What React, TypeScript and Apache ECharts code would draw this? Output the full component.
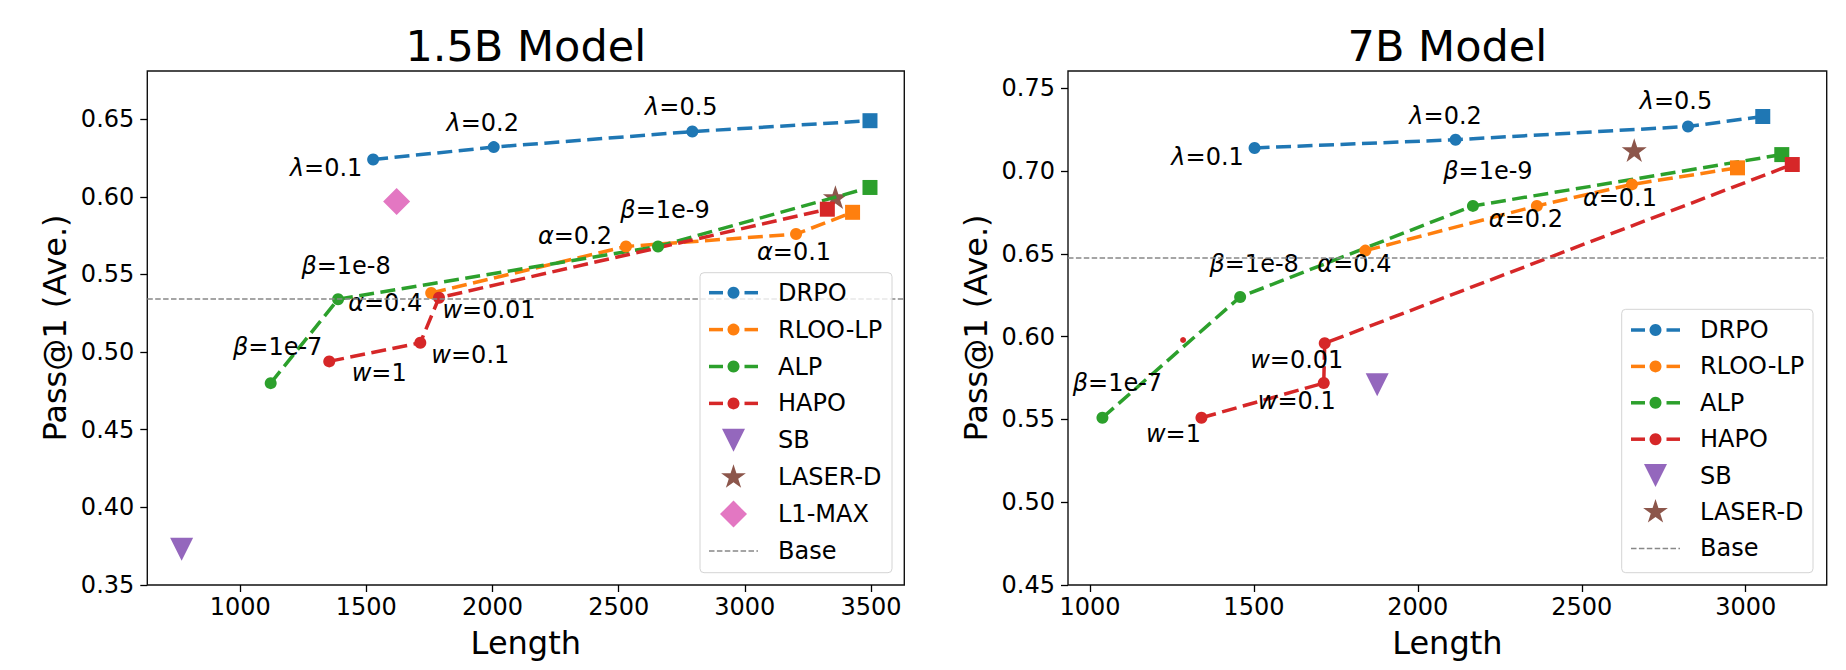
import React, { useEffect, useRef } from 'react';
import * as echarts from 'echarts';

const FONT = 'DejaVu Sans';

const C_DRPO = '#1f77b4';
const C_RLOO = '#ff7f0e';
const C_ALP = '#2ca02c';
const C_HAPO = '#d62728';
const C_SB = '#9467bd';
const C_LASER = '#8c564b';
const C_L1 = '#e377c2';
const C_BASE = '#888888';

const LINE_W = 3.5;
const LINE_DASH = [15, 6.5];

// ---------- 1.5B model ----------
const X_TICKS_15B = [1000, 1500, 2000, 2500, 3000, 3500];
const Y_TICKS_15B = [0.35, 0.4, 0.45, 0.5, 0.55, 0.6, 0.65];
const X_RANGE_15B = [632, 3632];
const Y_RANGE_15B = [0.35, 0.681];

const DRPO_15B_LEN = [1527, 2005, 2792, 3496];
const DRPO_15B_ACC = [0.624, 0.632, 0.642, 0.649];
const DRPO_15B_TAGS = ['λ=0.1', 'λ=0.2', 'λ=0.5', ''];

const RLOO_15B_LEN = [1757, 2529, 3203, 3427];
const RLOO_15B_ACC = [0.538, 0.568, 0.576, 0.59];
const RLOO_15B_TAGS = ['α=0.4', 'α=0.2', 'α=0.1', ''];

const ALP_15B_LEN = [1121, 1388, 2656, 3496];
const ALP_15B_ACC = [0.48, 0.534, 0.568, 0.606];
const ALP_15B_TAGS = ['β=1e-7', 'β=1e-8', 'β=1e-9', ''];

const HAPO_15B_LEN = [1353, 1714, 1788, 3327];
const HAPO_15B_ACC = [0.494, 0.506, 0.535, 0.592];
const HAPO_15B_TAGS = ['w=1', 'w=0.1', 'w=0.01', ''];

const SB_15B = [[768, 0.373]];
const LASER_15B = [[3359, 0.599]];
const L1MAX_15B = [[1620, 0.597]];
const BASE_15B = 0.5345;

// ---------- 7B model ----------
const X_TICKS_7B = [1000, 1500, 2000, 2500, 3000];
const Y_TICKS_7B = [0.45, 0.5, 0.55, 0.6, 0.65, 0.7, 0.75];
const X_RANGE_7B = [933, 3247];
const Y_RANGE_7B = [0.45, 0.7605];

const DRPO_7B_LEN = [1502, 2115, 2824, 3052];
const DRPO_7B_ACC = [0.714, 0.719, 0.727, 0.733];
const DRPO_7B_TAGS = ['λ=0.1', 'λ=0.2', 'λ=0.5', ''];

const RLOO_7B_LEN = [1840, 2363, 2653, 2975];
const RLOO_7B_ACC = [0.652, 0.679, 0.692, 0.702];
const RLOO_7B_TAGS = ['α=0.4', 'α=0.2', 'α=0.1', ''];

const ALP_7B_LEN = [1038, 1458, 2168, 3110];
const ALP_7B_ACC = [0.551, 0.624, 0.679, 0.71];
const ALP_7B_TAGS = ['β=1e-7', 'β=1e-8', 'β=1e-9', ''];

const HAPO_7B_LEN = [1340, 1713, 1716, 3142];
const HAPO_7B_ACC = [0.551, 0.572, 0.596, 0.704];
const HAPO_7B_TAGS = ['w=1', 'w=0.1', 'w=0.01', ''];
const HAPO_7B_STRAY = [[1284, 0.598]];

const SB_7B = [[1876, 0.571]];
const LASER_7B = [[2660, 0.712]];
const BASE_7B = 0.6474;

// label offsets (px) for the annotated points of each curve
const OFF_15B = {
  drpo: [[-47, 8], [-11, -24], [-11, -25]],
  rloo: [[-46, 10], [-51, -10], [-2, 18]],
  alp: [[7, -36], [8, -33], [7, -36]],
  hapo: [[50, 12], [50, 12], [50, 12]],
};
const OFF_7B = {
  drpo: [[-47, 9], [-10, -24], [-12, -25]],
  rloo: [[-11, 13], [-11, 13], [-12, 14]],
  alp: [[15, -35], [14, -33], [15, -35]],
  hapo: [[-28, 16], [-27, 18], [-28, 17]],
};

// plot boxes
const GRID_15B = { left: 147.3, top: 71, width: 757, height: 514 };
const GRID_7B = { left: 1068, top: 71, width: 758.7, height: 514 };

function starPoints(cx: number, cy: number, R: number) {
  const pts: number[][] = [];
  for (let i = 0; i < 10; i++) {
    const r = i % 2 ? R * 0.381966 : R;
    const a = -Math.PI / 2 + (i * Math.PI) / 5;
    pts.push([cx + r * Math.cos(a), cy + r * Math.sin(a)]);
  }
  return pts;
}
const STAR_PATH =
  'path://' +
  starPoints(0, 0, 1)
    .map((p, i) => (i ? 'L' : 'M') + p[0].toFixed(4) + ',' + p[1].toFixed(4))
    .join(' ') +
  ' Z';
const TRI_DOWN_PATH = 'path://M0,0 L2,0 L1,2 Z';

function tagText(tag: string) {
  const k = tag.indexOf('=');
  return '{g|' + tag.slice(0, k) + '}' + tag.slice(k);
}

const labelBase = {
  show: false,
  color: '#000',
  fontSize: 24,
  fontFamily: FONT,
  rich: { g: { fontStyle: 'italic', fontSize: 24, fontFamily: FONT, color: '#000' } },
};

function curve(
  name: string,
  color: string,
  lens: number[],
  accs: number[],
  tags: string[],
  offsets: number[][],
  gi: number
) {
  return {
    type: 'line',
    name,
    xAxisIndex: gi,
    yAxisIndex: gi,
    symbol: 'circle',
    symbolSize: 12,
    showSymbol: true,
    lineStyle: { color, width: LINE_W, type: LINE_DASH },
    itemStyle: { color },
    label: labelBase,
    data: lens.map((x, i) => {
      const item: any = { value: [x, accs[i]] };
      if (i === lens.length - 1) {
        item.symbol = 'rect';
        item.symbolSize = 15;
      }
      if (tags[i]) {
        item.label = {
          show: true,
          position: 'inside',
          formatter: tagText(tags[i]),
          offset: offsets[i],
        };
      }
      return item;
    }),
  };
}

function scatter(name: string, color: string, pts: number[][], symbol: string, size: any, gi: number, offset?: number[]) {
  return {
    type: 'scatter',
    name,
    xAxisIndex: gi,
    yAxisIndex: gi,
    symbol,
    symbolSize: size,
    symbolOffset: offset || [0, 0],
    itemStyle: { color, opacity: 1 },
    data: pts,
  };
}

function baseLine(value: number, gi: number) {
  return {
    type: 'line',
    name: 'Base',
    xAxisIndex: gi,
    yAxisIndex: gi,
    data: [],
    markLine: {
      silent: true,
      precision: 5,
      symbol: ['none', 'none'],
      label: { show: false },
      lineStyle: { color: C_BASE, width: 1.5, type: [5.5, 2.4] },
      data: [{ yAxis: value }],
    },
  };
}

function xAxisCfg(gi: number, range: number[], ticks: number[]) {
  return {
    type: 'value',
    gridIndex: gi,
    min: range[0],
    max: range[1],
    name: 'Length',
    nameLocation: 'middle',
    nameGap: 42,
    nameTextStyle: { fontSize: 32, fontFamily: FONT, color: '#000' },
    axisLine: { show: false },
    splitLine: { show: false },
    axisTick: { show: true, length: 7, lineStyle: { color: '#000', width: 1.3 }, customValues: ticks },
    axisLabel: {
      show: true,
      customValues: ticks,
      margin: 10,
      fontSize: 24,
      fontFamily: FONT,
      color: '#000',
      formatter: (v: number) => String(v),
    },
  };
}

function yAxisCfg(gi: number, range: number[], ticks: number[]) {
  return {
    type: 'value',
    gridIndex: gi,
    min: range[0],
    max: range[1],
    name: 'Pass@1 (Ave.)',
    nameLocation: 'middle',
    nameGap: 76,
    nameTextStyle: { fontSize: 32, fontFamily: FONT, color: '#000' },
    axisLine: { show: false },
    splitLine: { show: false },
    axisTick: { show: true, length: 7, lineStyle: { color: '#000', width: 1.3 }, customValues: ticks },
    axisLabel: {
      show: true,
      customValues: ticks,
      margin: 13,
      fontSize: 24,
      fontFamily: FONT,
      color: '#000',
      formatter: (v: number) => v.toFixed(2),
    },
  };
}

type LegendEntry = { name: string; kind: string; color: string };

const LEGEND_15B: LegendEntry[] = [
  { name: 'DRPO', kind: 'line', color: C_DRPO },
  { name: 'RLOO-LP', kind: 'line', color: C_RLOO },
  { name: 'ALP', kind: 'line', color: C_ALP },
  { name: 'HAPO', kind: 'line', color: C_HAPO },
  { name: 'SB', kind: 'tri', color: C_SB },
  { name: 'LASER-D', kind: 'star', color: C_LASER },
  { name: 'L1-MAX', kind: 'diamond', color: C_L1 },
  { name: 'Base', kind: 'base', color: C_BASE },
];
const LEGEND_7B: LegendEntry[] = LEGEND_15B.filter((e) => e.name !== 'L1-MAX');

function legendBox(
  box: { x: number; y: number; w: number; h: number },
  row0: number,
  step: number,
  ix0: number,
  tx: number,
  entries: LegendEntry[]
) {
  const els: any[] = [
    {
      type: 'rect',
      z: 100,
      shape: { x: box.x, y: box.y, width: box.w, height: box.h, r: 4 },
      style: { fill: 'rgba(255,255,255,0.8)', stroke: '#d4d4d4', lineWidth: 1 },
    },
  ];
  const ix1 = ix0 + 49;
  const cx = ix0 + 24.5;
  entries.forEach((e, i) => {
    const cy = row0 + i * step;
    if (e.kind === 'line') {
      els.push({
        type: 'line',
        z: 101,
        shape: { x1: ix0, y1: cy, x2: ix0 + 14, y2: cy },
        style: { stroke: e.color, lineWidth: LINE_W },
      });
      els.push({
        type: 'line',
        z: 101,
        shape: { x1: ix1 - 13.5, y1: cy, x2: ix1, y2: cy },
        style: { stroke: e.color, lineWidth: LINE_W },
      });
      els.push({ type: 'circle', z: 102, shape: { cx, cy, r: 6 }, style: { fill: e.color } });
    } else if (e.kind === 'base') {
      els.push({
        type: 'line',
        z: 101,
        shape: { x1: ix0, y1: cy, x2: ix1, y2: cy },
        style: { stroke: e.color, lineWidth: 1.5, lineDash: [5.5, 2.4] },
      });
    } else if (e.kind === 'tri') {
      els.push({
        type: 'polygon',
        z: 101,
        shape: { points: [[cx - 11.5, cy - 11.5], [cx + 11.5, cy - 11.5], [cx, cy + 11.5]] },
        style: { fill: e.color },
      });
    } else if (e.kind === 'star') {
      els.push({ type: 'polygon', z: 101, shape: { points: starPoints(cx, cy, 13) }, style: { fill: e.color } });
    } else if (e.kind === 'diamond') {
      els.push({
        type: 'polygon',
        z: 101,
        shape: { points: [[cx, cy - 13.5], [cx + 13.5, cy], [cx, cy + 13.5], [cx - 13.5, cy]] },
        style: { fill: e.color },
      });
    }
    els.push({
      type: 'text',
      z: 102,
      x: tx,
      y: cy,
      style: { text: e.name, fontSize: 24, fontFamily: FONT, fill: '#000', align: 'left', verticalAlign: 'middle' },
    });
  });
  return els;
}

function titleText(text: string, grid: { left: number; width: number }) {
  return {
    type: 'text',
    z: 100,
    x: grid.left + grid.width / 2,
    y: 45.5,
    style: { text, fontSize: 43, fontFamily: FONT, fill: '#000', align: 'center', verticalAlign: 'middle' },
  };
}

function buildOption() {
  const gridCommon = { show: true, borderColor: '#111', borderWidth: 1.4, backgroundColor: 'transparent', outerBoundsMode: 'none', containLabel: false };
  return {
    animation: false,
    backgroundColor: '#fff',
    textStyle: { fontFamily: FONT },
    grid: [
      { ...gridCommon, ...GRID_15B },
      { ...gridCommon, ...GRID_7B },
    ],
    xAxis: [xAxisCfg(0, X_RANGE_15B, X_TICKS_15B), xAxisCfg(1, X_RANGE_7B, X_TICKS_7B)],
    yAxis: [yAxisCfg(0, Y_RANGE_15B, Y_TICKS_15B), yAxisCfg(1, Y_RANGE_7B, Y_TICKS_7B)],
    series: [
      baseLine(BASE_15B, 0),
      curve('DRPO', C_DRPO, DRPO_15B_LEN, DRPO_15B_ACC, DRPO_15B_TAGS, OFF_15B.drpo, 0),
      curve('RLOO-LP', C_RLOO, RLOO_15B_LEN, RLOO_15B_ACC, RLOO_15B_TAGS, OFF_15B.rloo, 0),
      curve('ALP', C_ALP, ALP_15B_LEN, ALP_15B_ACC, ALP_15B_TAGS, OFF_15B.alp, 0),
      curve('HAPO', C_HAPO, HAPO_15B_LEN, HAPO_15B_ACC, HAPO_15B_TAGS, OFF_15B.hapo, 0),
      scatter('SB', C_SB, SB_15B, TRI_DOWN_PATH, [23, 23], 0),
      scatter('LASER-D', C_LASER, LASER_15B, STAR_PATH, [25, 23.8], 0, [0, -1.2]),
      scatter('L1-MAX', C_L1, L1MAX_15B, 'diamond', [27, 27], 0),

      baseLine(BASE_7B, 1),
      curve('DRPO', C_DRPO, DRPO_7B_LEN, DRPO_7B_ACC, DRPO_7B_TAGS, OFF_7B.drpo, 1),
      curve('RLOO-LP', C_RLOO, RLOO_7B_LEN, RLOO_7B_ACC, RLOO_7B_TAGS, OFF_7B.rloo, 1),
      curve('ALP', C_ALP, ALP_7B_LEN, ALP_7B_ACC, ALP_7B_TAGS, OFF_7B.alp, 1),
      curve('HAPO', C_HAPO, HAPO_7B_LEN, HAPO_7B_ACC, HAPO_7B_TAGS, OFF_7B.hapo, 1),
      scatter('HAPO', C_HAPO, HAPO_7B_STRAY, 'circle', 6, 1),
      scatter('SB', C_SB, SB_7B, TRI_DOWN_PATH, [23, 23], 1),
      scatter('LASER-D', C_LASER, LASER_7B, STAR_PATH, [25, 23.8], 1, [0, -1.2]),
    ],
    graphic: [
      titleText('1.5B Model', GRID_15B),
      titleText('7B Model', GRID_7B),
      ...legendBox({ x: 700, y: 272.7, w: 192, h: 300 }, 292.7, 36.9, 709, 778, LEGEND_15B),
      ...legendBox({ x: 1621.7, y: 309.3, w: 191.3, h: 263.4 }, 330, 36.4, 1631, 1700, LEGEND_7B),
    ],
  };
}

export default function App() {
  const ref = useRef<HTMLDivElement>(null);
  useEffect(() => {
    if (!ref.current) return;
    const chart = echarts.init(ref.current, null, { renderer: 'svg' });
    chart.setOption(buildOption() as any);
    return () => chart.dispose();
  }, []);
  return (
    <div
      ref={ref}
      style={{ position: 'fixed', left: 0, top: 0, width: 1846, height: 670, background: '#fff' }}
    />
  );
}
